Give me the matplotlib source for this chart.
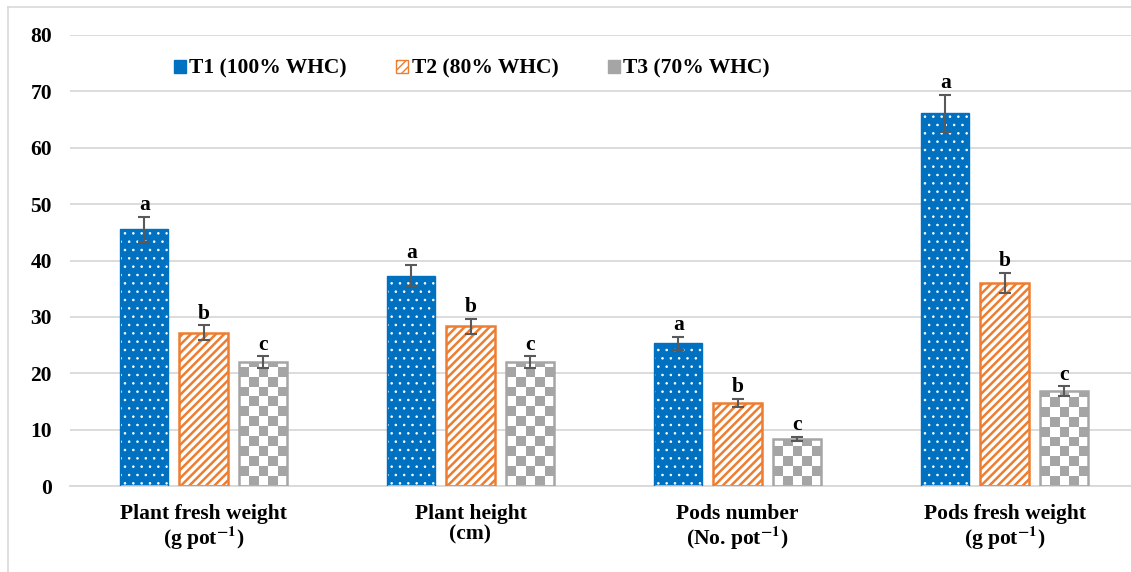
import numpy as np
import matplotlib
matplotlib.use("Agg")
import matplotlib.pyplot as plt
from matplotlib.patches import Patch
from matplotlib.lines import Line2D

plt.rcParams['font.family'] = ['Liberation Serif', 'DejaVu Serif']
plt.rcParams['font.weight'] = 'bold'
plt.rcParams['mathtext.fontset'] = 'stix'

categories = ["Plant fresh weight\n(g pot$^{\\mathbf{-1}}$)",
              "Plant height\n(cm)",
              "Pods number\n(No. pot$^{\\mathbf{-1}}$)",
              "Pods fresh weight\n(g pot$^{\\mathbf{-1}}$)"]
series = ["T1 (100% WHC)", "T2 (80% WHC)", "T3 (70% WHC)"]
t1 = [45.5, 37.3, 25.3, 66.1]
t2 = [27.2, 28.3, 14.7, 36.0]
t3 = [22.0, 22.0, 8.3, 16.8]
t1_err = [2.2, 1.9, 1.2, 3.3]
t2_err = [1.3, 1.4, 0.7, 1.8]
t3_err = [1.0, 1.0, 0.4, 0.9]
letters = [["a", "a", "a", "a"], ["b", "b", "b", "b"], ["c", "c", "c", "c"]]

blue = "#0070c0"
orange = "#ed7d31"
gray = "#a5a5a5"
errc = "#595959"
fs = 15.5

W, H = 1131, 572
fig = plt.figure(figsize=(W / 100, H / 100), dpi=100)
ax = fig.add_axes([70 / W, 86 / H, (W - 70) / W, 451 / H])

x = np.arange(len(categories))
bw = 0.18
off = 0.222

# T1: blue with white dots
with plt.rc_context({'hatch.linewidth': 0.6}):
    b1 = ax.bar(x - off, t1, bw, color=blue, edgecolor="white", hatch="..", linewidth=0, zorder=2)
ax.bar(x - off, t1, bw, fill=False, edgecolor=blue, linewidth=1.0, zorder=3)

# T2: white with orange stripes
with plt.rc_context({'hatch.linewidth': 1.8}):
    b2 = ax.bar(x, t2, bw, color="white", edgecolor=orange, hatch="////", linewidth=0, zorder=2)
ax.bar(x, t2, bw, fill=False, edgecolor=orange, linewidth=1.8, zorder=3)

for b in b1:
    if hasattr(b, "set_hatch_linewidth"):
        b.set_hatch_linewidth(0.6)
for b in b2:
    if hasattr(b, "set_hatch_linewidth"):
        b.set_hatch_linewidth(1.8)

# T3: gray checkerboard
bars3 = ax.bar(x + off, t3, bw, color="white", linewidth=0, zorder=2)
sq = 1.75
for b in bars3:
    x0, w, h = b.get_x(), b.get_width(), b.get_height()
    nr = int(np.ceil(h / sq))
    nc = 5
    chk = (np.add.outer(np.arange(nr), np.arange(nc)) % 2).astype(float)
    im = ax.imshow(chk[::-1], cmap=matplotlib.colors.ListedColormap(["white", gray]),
                   extent=(x0, x0 + w, 0, nr * sq), aspect="auto",
                   interpolation="nearest", zorder=2.5)
    im.set_clip_path(b)
ax.bar(x + off, t3, bw, fill=False, edgecolor=gray, linewidth=1.8, zorder=3)

for vals, errs, dx, lab in zip([t1, t2, t3], [t1_err, t2_err, t3_err], [-off, 0, off], letters):
    ax.errorbar(x + dx, vals, yerr=errs, fmt="none", ecolor=errc, elinewidth=1.5,
                capsize=4.5, capthick=1.5, zorder=4)
    for xi, v, e, l in zip(x + dx, vals, errs, lab):
        ax.text(xi, v + e + 0.3, l, ha="center", va="bottom", fontsize=fs, fontweight="bold")

ax.set_ylim(0, 80)
ax.set_xlim(-0.5, -0.5 + (W - 70) / 267)
ax.set_yticks(range(0, 81, 10))
ax.yaxis.grid(True, color="#d9d9d9", linewidth=1.3, zorder=0)
ax.set_axisbelow(True)
for s in ["top", "right", "left"]:
    ax.spines[s].set_visible(False)
ax.spines["bottom"].set_color("#d9d9d9")
ax.spines["bottom"].set_linewidth(1.3)
ax.tick_params(axis="both", length=0, labelsize=fs)
ax.tick_params(axis="y", pad=13)
ax.tick_params(axis="x", pad=13)
ax.set_xticks(x)
ax.set_xticklabels(categories, fontsize=fs, fontweight="bold", linespacing=1.0)
for t in ax.get_yticklabels():
    t.set_fontweight("bold")

handles = [Patch(facecolor=blue, edgecolor=blue),
           Patch(facecolor="white", edgecolor=orange, hatch="////"),
           Patch(facecolor=gray, edgecolor=gray)]
ax.legend(handles, series, loc="upper left", bbox_to_anchor=(0.08, 0.99), ncol=3,
          frameon=False, handlelength=0.55, handleheight=0.55,
          handletextpad=0.15, columnspacing=2.3, prop={"weight": "bold", "size": fs})

# chart border
fig.add_artist(Line2D([8 / W, 8 / W], [0, 1 - 7 / H], color="#d9d9d9", lw=1.2, transform=fig.transFigure))
fig.add_artist(Line2D([8 / W, 1], [1 - 7 / H, 1 - 7 / H], color="#d9d9d9", lw=1.2, transform=fig.transFigure))

fig.savefig("out.png", dpi=100)
